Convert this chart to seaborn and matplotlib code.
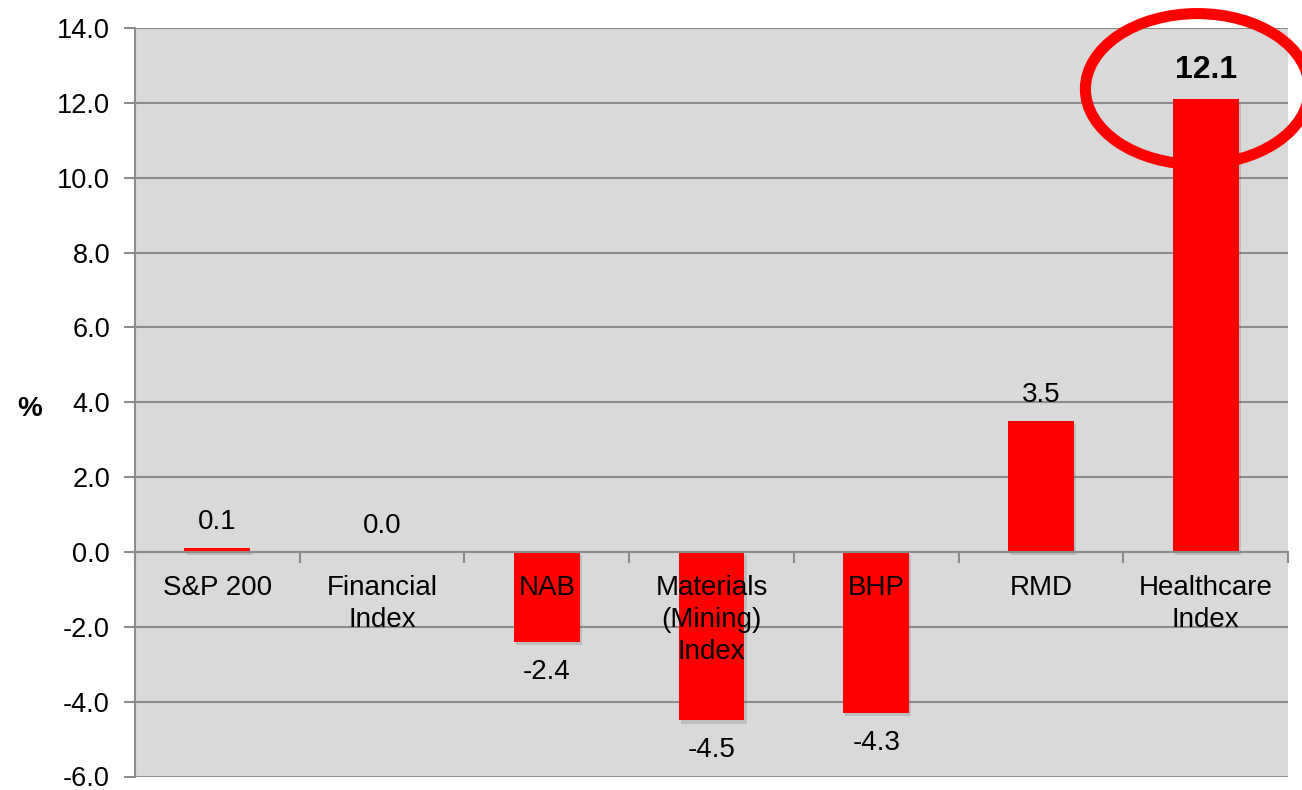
import matplotlib
matplotlib.use("Agg")
import matplotlib.pyplot as plt
import matplotlib.patheffects as pe
from matplotlib.patches import Ellipse
import matplotlib.transforms as mtransforms
import seaborn as sns
import numpy as np

categories = ["S&P 200", "Financial\nIndex", "NAB", "Materials\n(Mining)\nIndex", "BHP", "RMD", "Healthcare\nIndex"]
values = [0.1, 0.0, -2.4, -4.5, -4.3, 3.5, 12.1]
value_labels = ["0.1", "0.0", "-2.4", "-4.5", "-4.3", "3.5", "12.1"]
yticks = [-6, -4, -2, 0, 2, 4, 6, 8, 10, 12, 14]

sns.set_style("white")
plt.rcParams['font.family'] = ['Liberation Sans', 'DejaVu Sans']
plt.rcParams['text.color'] = 'black'

FS = 20

fig = plt.figure(figsize=(13.02, 7.90), dpi=100)
ax = fig.add_axes([135/1302, 13.5/790, 1153/1302, 748.5/790])
ax.set_facecolor("#d9d9d9")

sns.barplot(x=categories, y=values, color="#ff0000", saturation=1, width=0.4, ax=ax,
            zorder=2, linewidth=0, edgecolor="none")
for p in ax.patches:
    p.set_path_effects([pe.SimplePatchShadow(offset=(1.5, -2.5), shadow_rgbFace="#555555", alpha=0.2), pe.Normal()])

ax.set_ylim(-6, 14)
ax.set_xlim(-0.5, len(categories) - 0.5)
ax.set_yticks(yticks)
ax.set_yticklabels([f"{v:.1f}" for v in yticks], fontsize=19.5, color='black')
ax.set_axisbelow(True)
ax.yaxis.grid(True, color="#8c8c8c", linewidth=1.5)
ax.tick_params(axis='y', length=8, width=1.5, color="#8c8c8c", pad=10, direction='out', left=True)

for s in ["top", "right"]:
    ax.spines[s].set_visible(False)
ax.spines["left"].set_color("#8c8c8c")
ax.spines["left"].set_linewidth(1.5)
ax.spines["bottom"].set_position(("data", 0))
ax.spines["bottom"].set_color("#8c8c8c")
ax.spines["bottom"].set_linewidth(1.5)

ax.set_xticks(np.arange(len(categories)))
ax.set_xticklabels([])
ax.tick_params(axis='x', which='major', length=0)
ax.set_xticks(np.arange(-0.5, len(categories), 1.0), minor=True)
ax.tick_params(axis='x', which='minor', length=8, width=1.5, color="#8c8c8c", direction='out', bottom=True)
ax.set_xlabel("")

# category labels near zero line, on top of bars
off_down = mtransforms.offset_copy(ax.transData, fig=fig, x=0, y=-23, units='dots')
for i, c in enumerate(categories):
    ax.text(i, 0, c, transform=off_down, ha='center', va='top', fontsize=FS,
            multialignment='center', linespacing=1.3, zorder=5, color='black')

# value labels
for i, (v, lab) in enumerate(zip(values, value_labels)):
    bold = (i == len(values) - 1)
    dy = 26 if v >= 0 else -30
    if bold:
        dy = 29
    ax.annotate(lab, xy=(i, v), xytext=(0, dy), textcoords='offset pixels',
                ha='center', va='center', fontsize=23 if bold else FS,
                fontweight='bold' if bold else 'normal', zorder=5, color='black')

ax.set_ylabel("%", rotation=0, fontsize=FS, fontweight='bold', labelpad=0,
              ha='center', va='center', color='black')
ax.yaxis.set_label_coords(-0.091, 0.491)

# highlight ellipse around the largest value
imax = int(np.argmax(values))
ell = Ellipse((imax - 0.05, values[imax] + 0.27), width=1.36, height=4.03, fill=False,
              edgecolor="#ff0000", linewidth=8, clip_on=False, zorder=6)
ax.add_patch(ell)

fig.savefig("out.png", dpi=100, facecolor="white")
